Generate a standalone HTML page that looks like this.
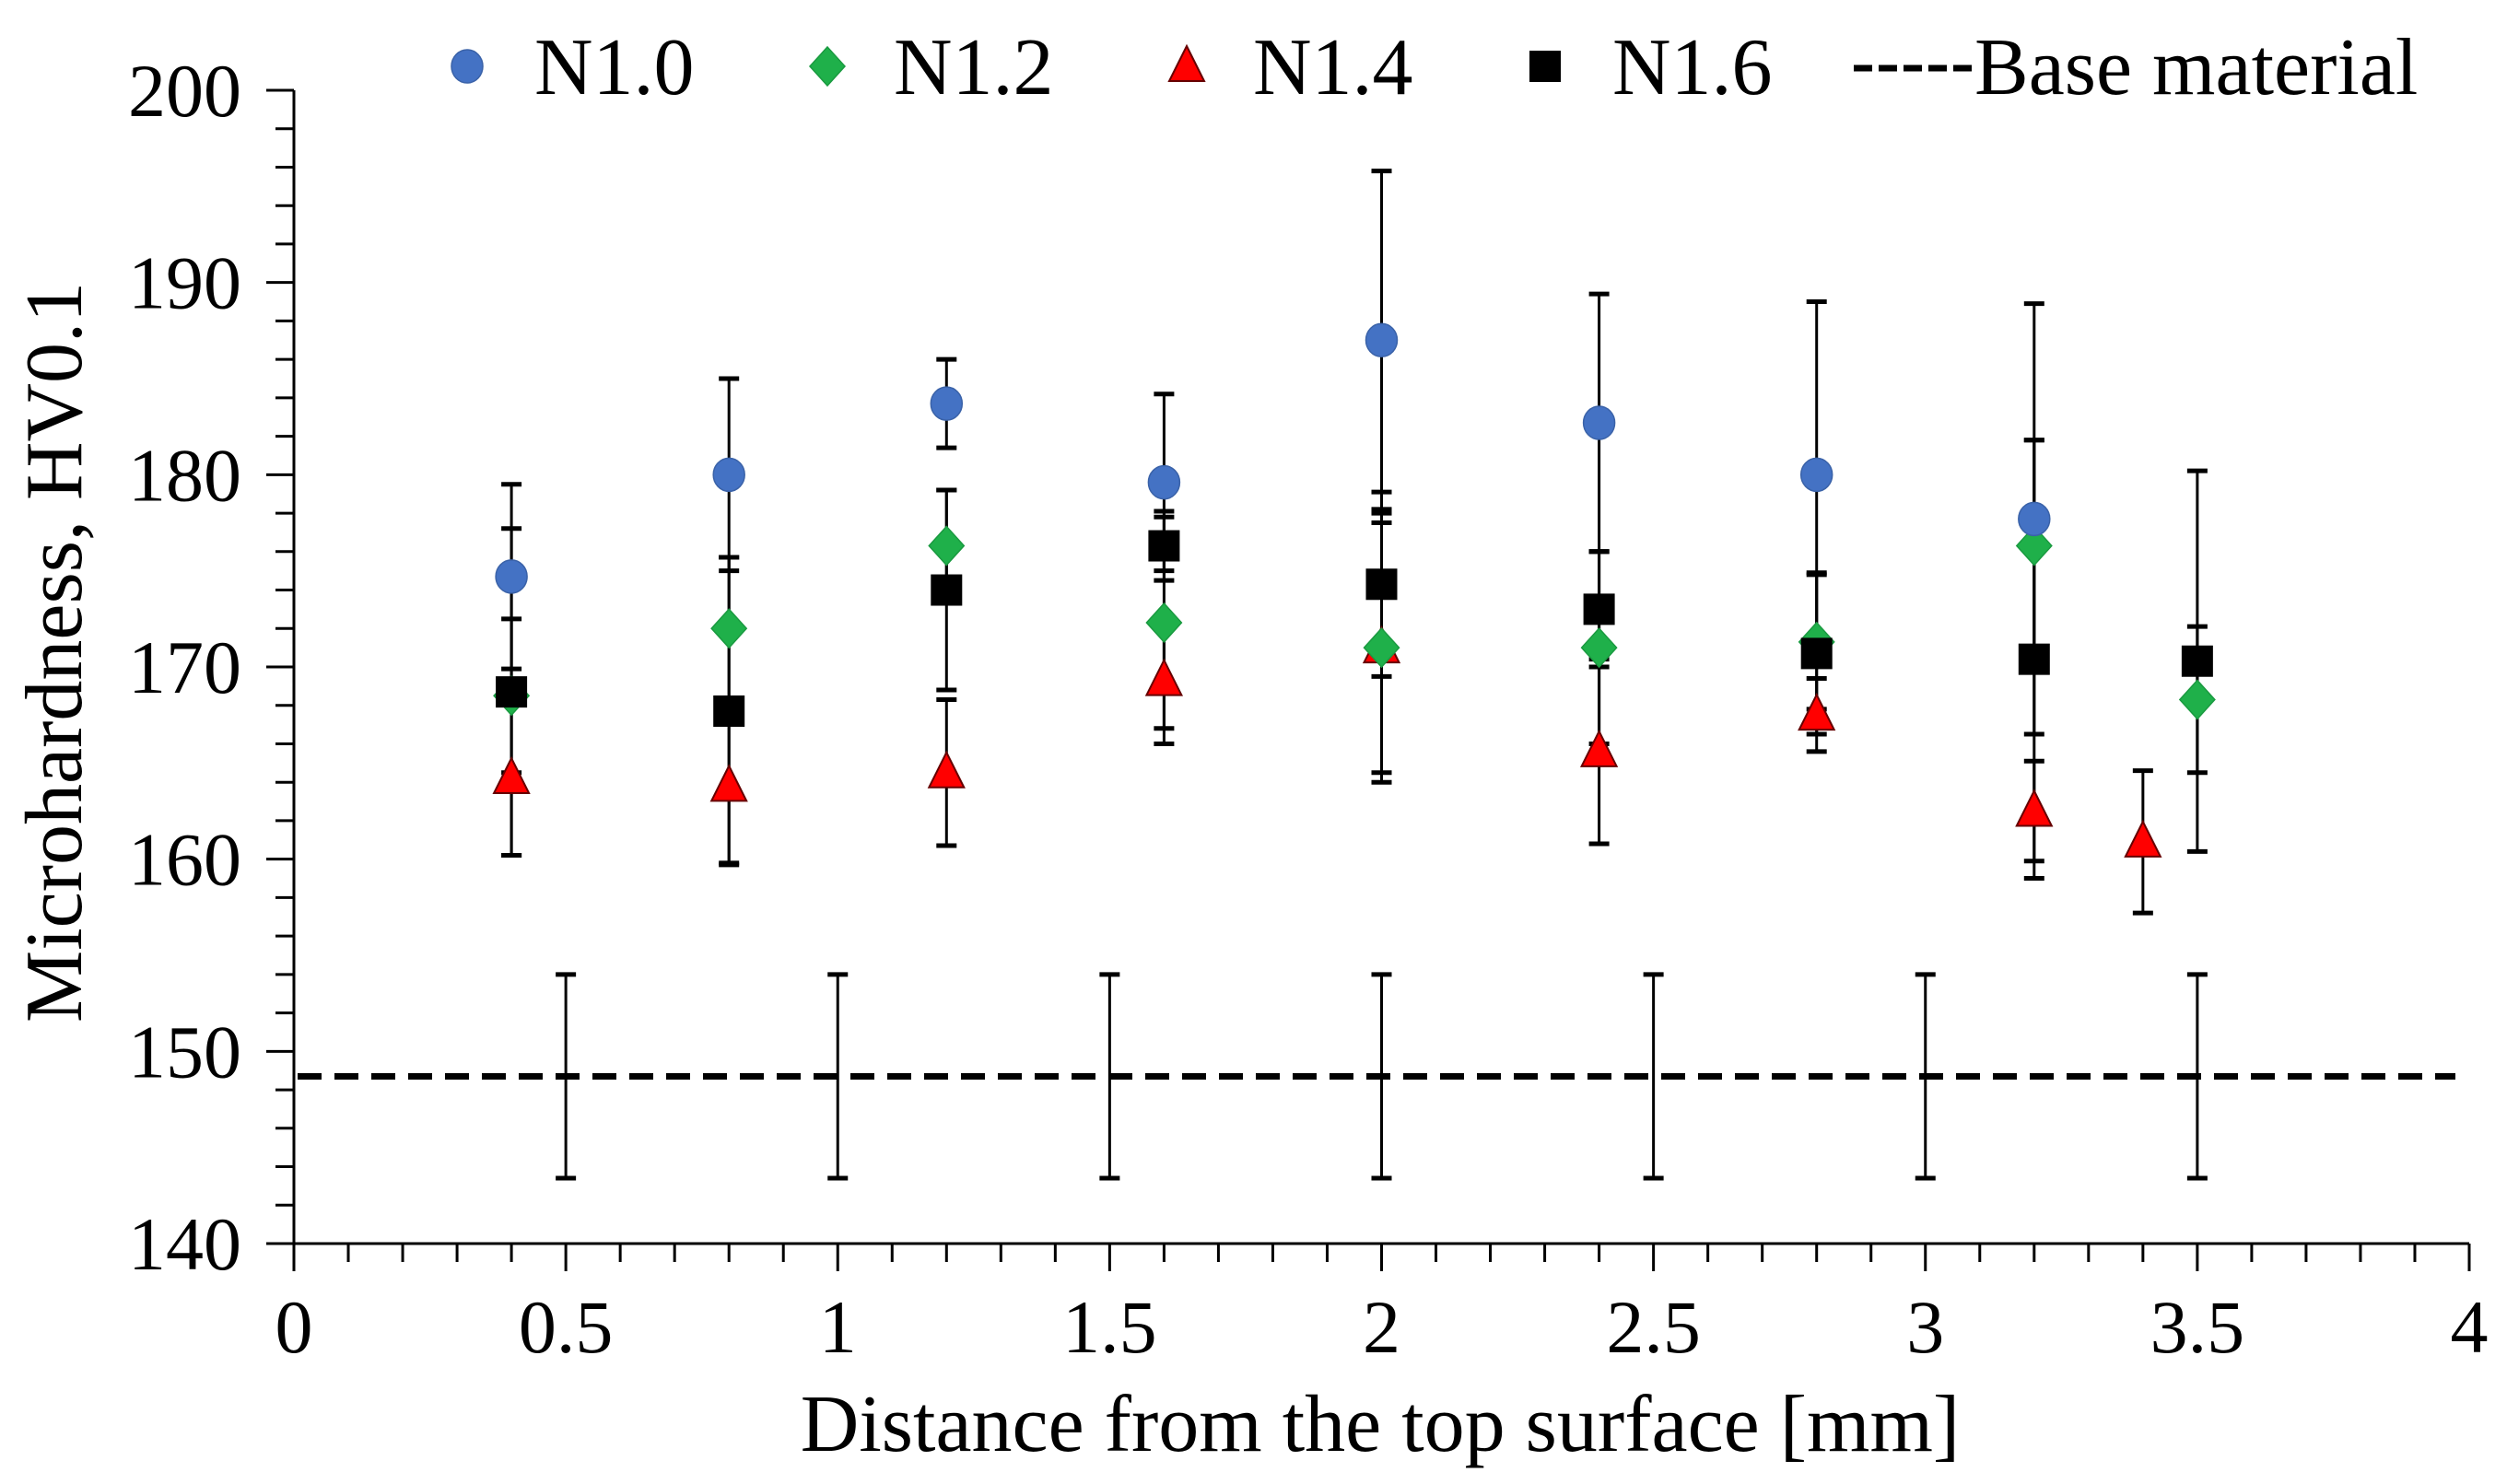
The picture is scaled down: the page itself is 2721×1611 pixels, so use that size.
<!DOCTYPE html>
<html><head><meta charset="utf-8"><style>
html,body{margin:0;padding:0;background:#fff;}
svg{display:block;font-family:"Liberation Serif",serif;}
</style></head><body>
<svg id="chart" width="2721" height="1611" viewBox="0 0 2721 1611" xmlns="http://www.w3.org/2000/svg">
<g id="axes"></g>
<g id="marks"></g>
<g id="legend"></g>
</svg>
<script>
const xTicks = [0, 0.5, 1, 1.5, 2, 2.5, 3, 3.5, 4];
const xTickLabels = ["0", "0.5", "1", "1.5", "2", "2.5", "3", "3.5", "4"];
const yTicks = [140, 150, 160, 170, 180, 190, 200];
const yTickLabels = ["140", "150", "160", "170", "180", "190", "200"];

const xN10 = [0.4, 0.8, 1.2, 1.6, 2.0, 2.4, 2.8, 3.2];
const yN10 = [174.7, 180.0, 183.7, 179.6, 187.0, 182.7, 180.0, 177.7];
const eN10 = [4.8, 5.0, 2.3, 4.6, 8.8, 6.7, 9.0, 11.2];

const xN12 = [0.4, 0.8, 1.2, 1.6, 2.0, 2.4, 2.8, 3.2, 3.5];
const yN12 = [168.5, 172.0, 176.3, 172.3, 171.0, 171.0, 171.3, 176.3, 168.3];
const eN12 = [4.0, 3.7, 2.9, 5.5, 7.0, 5.0, 3.5, 5.5, 3.8];

const xN14 = [0.4, 0.8, 1.2, 1.6, 2.0, 2.4, 2.8, 3.2, 3.4];
const yN14 = [164.2, 163.8, 164.5, 169.3, 171.0, 165.6, 167.5, 162.5, 160.9];
const eN14 = [4.0, 4.0, 3.8, 3.3, 6.5, 4.8, 1.9, 2.6, 3.7];

const xN16 = [0.4, 0.8, 1.2, 1.6, 2.0, 2.4, 2.8, 3.2, 3.5];
const yN16 = [168.7, 167.7, 174.0, 176.3, 174.3, 173.0, 170.7, 170.4, 170.3];
const eN16 = [8.5, 8.0, 5.2, 1.8, 4.8, 3.0, 4.2, 11.4, 9.9];

const xBase = [0.5, 1.0, 1.5, 2.0, 2.5, 3.0, 3.5];
const baseValue = 148.7;
const baseErr = 5.3;

const NS = "http://www.w3.org/2000/svg";
const X0 = 319, X1 = 2680, Y0 = 1350, Y1 = 98;
function sx(v){ return X0 + (v - 0) / 4 * (X1 - X0); }
function sy(v){ return Y0 - (v - 140) / 60 * (Y0 - Y1); }
function el(tag, attrs, parent, text){
  const e = document.createElementNS(NS, tag);
  for (const k in attrs) e.setAttribute(k, attrs[k]);
  if (text !== undefined) e.textContent = text;
  parent.appendChild(e);
  return e;
}
const axes = document.getElementById('axes');
const marks = document.getElementById('marks');
const legend = document.getElementById('legend');

let a = el('line', {x1:X0, y1:Y1, x2:X0, y2:Y0, stroke:'#000', 'stroke-width':3}, axes);


a = el('line', {x1:X0, y1:Y0, x2:X1, y2:Y0, stroke:'#000', 'stroke-width':3}, axes);



for (let v = 140; v <= 200; v += 2) {
  const major = (v % 10 === 0);
  const t = el('line', {x1: X0 - (major ? 30 : 20), y1: sy(v), x2: X0, y2: sy(v), stroke:'#000', 'stroke-width':3}, axes);
  
  
}
yTicks.forEach((v, i) => {
  const t = el('text', {x: 262, y: sy(v) + 28, 'font-size': 82, 'text-anchor': 'end', fill:'#000'}, axes, yTickLabels[i]);
  
  
});
for (let k = 0; k <= 40; k++) {
  const v = k / 10;
  const major = (k % 5 === 0);
  const t = el('line', {x1: sx(v), y1: Y0, x2: sx(v), y2: Y0 + (major ? 30 : 20), stroke:'#000', 'stroke-width':3}, axes);
  
  
}
xTicks.forEach((v, i) => {
  const t = el('text', {x: sx(v), y: 1468, 'font-size': 82, 'text-anchor': 'middle', fill:'#000'}, axes, xTickLabels[i]);
  
  
});
let tt = el('text', {x: 1498, y: 1575, 'font-size': 88, 'text-anchor': 'middle', fill:'#000'}, axes, 'Distance from the top surface [mm]');


tt = el('text', {x: 0, y: 0, 'font-size': 88, 'text-anchor': 'middle', fill:'#000', transform: 'translate(88,708) rotate(-90)'}, axes, 'Microhardness, HV0.1');



let bl = el('line', {x1: X0 + 4, y1: sy(baseValue), x2: 2665, y2: sy(baseValue), stroke:'#000', 'stroke-width':7, 'stroke-dasharray':'26 14'}, marks);



function errBar(x, y, e, name){
  const g = el('g', {}, marks);
  
  
  el('line', {x1:sx(x), y1:sy(y+e), x2:sx(x), y2:sy(y-e), stroke:'#000', 'stroke-width':3}, g);
  el('line', {x1:sx(x)-11, y1:sy(y+e), x2:sx(x)+11, y2:sy(y+e), stroke:'#000', 'stroke-width':5}, g);
  el('line', {x1:sx(x)-11, y1:sy(y-e), x2:sx(x)+11, y2:sy(y-e), stroke:'#000', 'stroke-width':5}, g);
}
xBase.forEach(x => errBar(x, baseValue, baseErr, 'base-material-error-bar'));

function marker(type, cx, cy, parent){
  let m;
  if (type === 'circle') m = el('ellipse', {cx, cy, rx:17, ry:18, fill:'#4472c4', stroke:'#3a62a8', 'stroke-width':1.5}, parent);
  else if (type === 'diamond') m = el('polygon', {points:`${cx},${cy-21} ${cx+19},${cy} ${cx},${cy+21} ${cx-19},${cy}`, fill:'#1fb04a', stroke:'#1a9a40', 'stroke-width':1.5}, parent);
  else if (type === 'triangle') m = el('polygon', {points:`${cx},${cy-22} ${cx+19},${cy+16} ${cx-19},${cy+16}`, fill:'#ff0000', stroke:'#600', 'stroke-width':2}, parent);
  else m = el('rect', {x:cx-17, y:cy-17, width:34, height:34, fill:'#000'}, parent);
  return m;
}
const series = [
  {xs:xN14, ys:yN14, es:eN14, type:'triangle', name:'n14'},
  {xs:xN12, ys:yN12, es:eN12, type:'diamond', name:'n12'},
  {xs:xN16, ys:yN16, es:eN16, type:'square', name:'n16'},
  {xs:xN10, ys:yN10, es:eN10, type:'circle', name:'n10'}
];
series.forEach(s => s.xs.forEach((x, i) => errBar(x, s.ys[i], s.es[i], 'error-bar-' + s.name)));
series.forEach(s => s.xs.forEach((x, i) => {
  const m = marker(s.type, sx(x), sy(s.ys[i]), marks);
  
  
}));

const legItems = [
  {type:'circle', x:507, tx:580, label:'N1.0', name:'legend-entry-n10'},
  {type:'diamond', x:898, tx:970, label:'N1.2', name:'legend-entry-n12'},
  {type:'triangle', x:1288, tx:1360, label:'N1.4', name:'legend-entry-n14'},
  {type:'square', x:1677, tx:1750, label:'N1.6', name:'legend-entry-n16'}
];
legItems.forEach(it => {
  const g = el('g', {}, legend);
  
  
  marker(it.type, it.x, 72, g);
  el('text', {x: it.tx, y: 102, 'font-size': 88, fill:'#000'}, g, it.label);
});
const lb = el('g', {}, legend);


el('line', {x1:2012, y1:74, x2:2140, y2:74, stroke:'#000', 'stroke-width':7, 'stroke-dasharray':'20 7'}, lb);
el('text', {x: 2143, y: 102, 'font-size': 88, fill:'#000'}, lb, 'Base material');
</script>
</body></html>
